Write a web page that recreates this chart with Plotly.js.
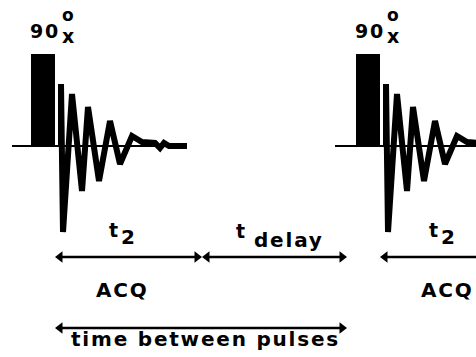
<!DOCTYPE html>
<html>
<head>
<meta charset="utf-8">
<script src="https://cdn.plot.ly/plotly-3.0.1.min.js"></script>
<style>
  html, body { margin: 0; padding: 0; background: #ffffff; }
  #chart { width: 476px; height: 357px; }
  .annotation-text { letter-spacing: 1.8px; }
</style>
</head>
<body>
<div id="chart"></div>
<script>
// ---- data (time in arbitrary units, amplitude relative to the baseline) ----
const pulseStart = [31, 356];          // start time of each 90x pulse
const pulseLength = 24;                // pulse duration
const pulseAmp = 92;                   // pulse height

// FID (free induction decay), time measured from the pulse start
const fidT   = [30, 30, 32, 41, 51, 57, 68, 79, 89, 101, 111, 124, 129, 133, 138, 156];
const fidAmp = [0, 62, -86, 52, -45, 39, -35, 25, -18, 10, 4, 3, -2, 3, 0, 0];

// baselines (from, to)
const baseFrom = [12, 335];
const baseTo   = [187, 520];

// timing arrows (from, to, level)
const arrowFrom  = [55, 202, 380, 55];
const arrowTo    = [202, 347, 520, 347];
const arrowLevel = [-111, -111, -111, -182];

// text labels
const labelText = ['90', 'o', 'x', 't', '2', 't', 'delay', 'ACQ', 'time between pulses',
                   '90', 'o', 'x', 't', '2', 'ACQ'];

// ---- build traces ----
const traces = [];
const FS = 20;

// baselines
{
  const x = [], y = [];
  for (let i = 0; i < baseFrom.length; i++) { x.push(baseFrom[i], baseTo[i], null); y.push(0, 0, null); }
  traces.push({type: 'scatter', mode: 'lines', x, y, line: {color: '#000', width: 2}, hoverinfo: 'skip'});
}
// pulses
traces.push({
  type: 'bar', x: pulseStart.map(s => s + pulseLength / 2), y: pulseStart.map(() => pulseAmp),
  width: pulseStart.map(() => pulseLength), base: 0,
  marker: {color: '#000', line: {width: 0}}, hoverinfo: 'skip'
});
// FIDs
for (const s of pulseStart) {
  traces.push({type: 'scatter', mode: 'lines', x: fidT.map(t => s + t), y: fidAmp,
               line: {color: '#000', width: 6}, hoverinfo: 'skip'});
}
// arrows: shafts
{
  const x = [], y = [];
  for (let i = 0; i < arrowFrom.length; i++) {
    x.push(arrowFrom[i] + 4, arrowTo[i] - 4, null);
    y.push(arrowLevel[i], arrowLevel[i], null);
  }
  traces.push({type: 'scatter', mode: 'lines', x, y, line: {color: '#000', width: 2.5}, hoverinfo: 'skip'});
}
// arrows: heads
const R = 5;
traces.push({type: 'scatter', mode: 'markers', x: arrowFrom.map(v => v + R), y: arrowLevel,
             marker: {symbol: 'triangle-left', size: 2 * R, color: '#000'}, hoverinfo: 'skip'});
traces.push({type: 'scatter', mode: 'markers', x: arrowTo.map(v => v - R), y: arrowLevel,
             marker: {symbol: 'triangle-right', size: 2 * R, color: '#000'}, hoverinfo: 'skip'});

// ---- labels: left edge, baseline (screen) and size ----
const labelLeft     = [30, 62, 62, 109, 121, 236, 254, 96, 71, 355, 387, 387, 429, 441, 421];
const labelBaseline = [38, 21, 43, 237, 244, 238, 247, 297, 346, 38, 21, 43, 237, 244, 297];
const labelSize     = [19, 17, 19, 19, FS, 19, FS, FS, FS, 19, 17, 19, 19, FS, FS];
const toAmp = py => 146 - py;
const annotations = labelText.map((t, i) => ({
  text: t, x: labelLeft[i], y: toAmp(labelBaseline[i] - 0.928 * labelSize[i]),
  xref: 'x', yref: 'y', xanchor: 'left', yanchor: 'top',
  showarrow: false, borderpad: 0, borderwidth: 0,
  font: {family: 'DejaVu Sans', size: labelSize[i], color: '#000000', weight: 'bold'}
}));

const layout = {
  width: 476, height: 357,
  margin: {l: 0, r: 0, t: 0, b: 0, pad: 0},
  paper_bgcolor: '#ffffff', plot_bgcolor: '#ffffff',
  showlegend: false, bargap: 0,
  xaxis: {range: [0, 476], visible: false, fixedrange: true},
  yaxis: {range: [-211, 146], visible: false, fixedrange: true},
  annotations
};

Plotly.newPlot('chart', traces, layout, {staticPlot: true, displayModeBar: false});
</script>
</body>
</html>
